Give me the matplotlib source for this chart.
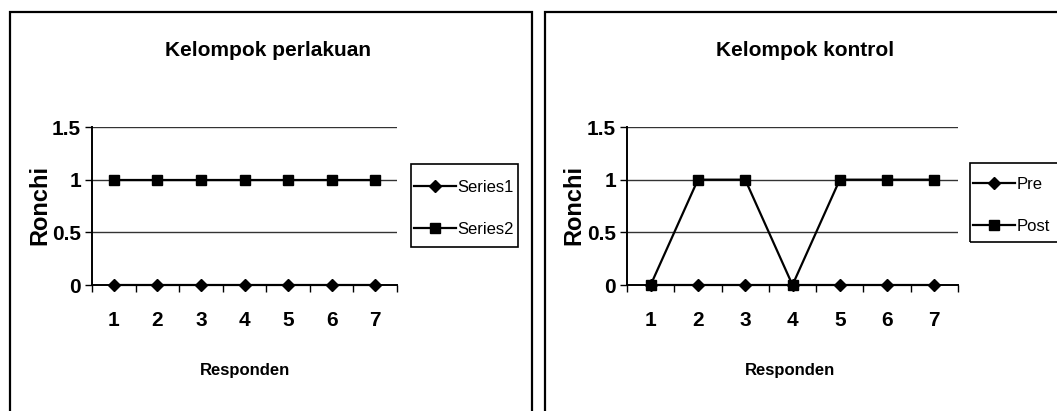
import matplotlib.pyplot as plt
from matplotlib.patches import Rectangle
import numpy as np

responden = [1, 2, 3, 4, 5, 6, 7]
perlakuan_s1 = [0, 0, 0, 0, 0, 0, 0]
perlakuan_s2 = [1, 1, 1, 1, 1, 1, 1]
kontrol_pre = [0, 0, 0, 0, 0, 0, 0]
kontrol_post = [0, 1, 1, 0, 1, 1, 1]
y_ticks = [0, 0.5, 1, 1.5]
y_labels = ['0', '0.5', '1', '1.5']

W, H = 1057, 411
FONT = ['Liberation Sans', 'DejaVu Sans']

fig = plt.figure(figsize=(W / 100, H / 100), dpi=100)
fig.patch.set_facecolor('white')

def px(x0, y0, w, h):
    # pixel box (top-left origin) -> figure fraction
    return [x0 / W, 1 - (y0 + h) / H, w / W, h / H]

def frame(x0, y0, x1, y1, lw):
    fig.patches.append(Rectangle((x0 / W, 1 - y1 / H), (x1 - x0) / W, (y1 - y0) / H,
                                 transform=fig.transFigure, fill=False,
                                 edgecolor='black', lw=lw, zorder=5))

# panel frames
frame(10, 12, 532, 430, 1.6)
frame(545, 12, 1080, 430, 1.6)


def panel(rect, title, title_x, s_a, s_b, names, ylab_x, resp_x, leg_box):
    ax = fig.add_axes(rect)
    n = len(responden)
    x = np.arange(n)
    ax.plot(x, s_a, color='black', lw=1.6, marker='D', ms=6, label=names[0],
            zorder=3, clip_on=False)
    ax.plot(x, s_b, color='black', lw=1.6, marker='s', ms=6.5, label=names[1],
            zorder=3, clip_on=False)
    ax.set_xlim(-0.5, n - 0.5)
    ax.set_ylim(0, 1.5)
    ax.set_yticks(y_ticks)
    ax.set_yticklabels(y_labels, fontfamily=FONT, fontweight='bold', fontsize=15)
    ax.set_xticks(x)
    ax.set_xticklabels([str(r) for r in responden], fontfamily=FONT,
                       fontweight='bold', fontsize=15)
    ax.set_xticks(np.arange(n + 1) - 0.5, minor=True)
    ax.tick_params(axis='x', which='major', length=0, pad=19)
    ax.tick_params(axis='x', which='minor', length=5, width=1, direction='out')
    ax.tick_params(axis='y', length=5, width=1, pad=3)
    for y in y_ticks[1:]:
        ax.axhline(y, color='#333333', lw=1.0, zorder=1)
    for side in ['top', 'right']:
        ax.spines[side].set_visible(False)
    ax.spines['left'].set_linewidth(1.4)
    ax.spines['bottom'].set_linewidth(1.4)

    fig.text(title_x / W, 1 - 50 / H, title, ha='center', va='center',
             fontfamily=FONT, fontweight='bold', fontsize=15)
    fig.text(resp_x / W, 1 - 370 / H, 'Responden', ha='center', va='center',
             fontfamily=FONT, fontweight='bold', fontsize=12)
    fig.text(ylab_x / W, 1 - 205 / H, 'Ronchi', ha='center', va='center',
             rotation=90, fontfamily=FONT, fontweight='bold', fontsize=17)

    # legend box drawn separately so its size can be set exactly
    x0, y0, x1, y1 = leg_box
    frame(x0, y0, x1, y1, 1.2)
    ax.legend(loc='center left',
              bbox_to_anchor=((x0 + 3) / W, 1 - ((y0 + y1) / 2 + 3) / H),
              bbox_transform=fig.transFigure, frameon=False,
              prop={'family': FONT, 'size': 12}, handlelength=2.5,
              handletextpad=0.1, labelspacing=1.65, borderpad=0,
              borderaxespad=0)
    return ax


panel(px(92, 127, 305, 158), 'Kelompok perlakuan', 268,
      perlakuan_s1, perlakuan_s2, ['Series1', 'Series2'], 40, 245, (411, 164, 518, 247))
panel(px(627, 127, 331, 158), 'Kelompok kontrol', 805,
      kontrol_pre, kontrol_post, ['Pre', 'Post'], 574, 790, (970, 163, 1080, 242))

fig.savefig('out.png', dpi=100)
